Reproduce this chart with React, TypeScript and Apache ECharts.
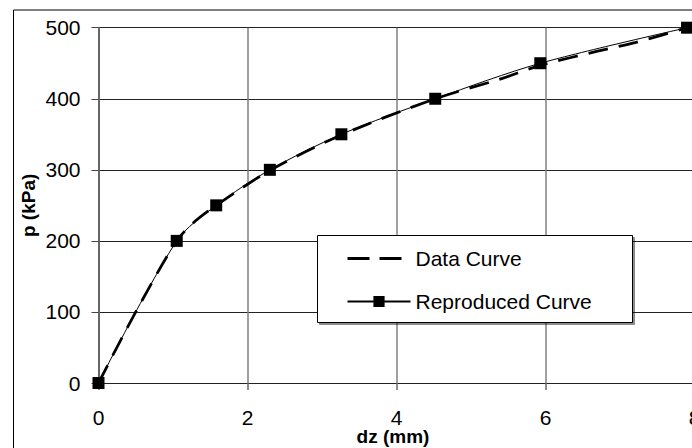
import React, { useEffect, useRef } from "react";
import * as echarts from "echarts";

const xTicks = [0, 2, 4, 6, 8];
const yTicks = [0, 100, 200, 300, 400, 500];

const dataCurveDz = [0, 0.5, 1.05, 1.3, 1.58, 2.3, 3.26, 4.52, 5.4, 5.93, 6.7, 7.2, 7.9];
const dataCurveP = [0, 100, 200, 228, 250, 299, 349, 400, 428, 447, 467, 479, 500];

const reproDz = [0, 1.05, 1.58, 2.3, 3.26, 4.52, 5.93, 7.9];
const reproP = [0, 200, 250, 300, 350, 400, 450, 500];

const FONT = "'Liberation Sans', Arial, sans-serif";

export default function App() {
  const ref = useRef<HTMLDivElement>(null);
  useEffect(() => {
    document.body.style.margin = "0";
    document.body.style.background = "#fff";
    const chart = echarts.init(ref.current!, null, { renderer: "svg" });
    chart.setOption({
      animation: false,
      backgroundColor: "#fff",
      textStyle: { fontFamily: FONT },
      grid: { left: 98.5, right: 25.5, top: 27.7, bottom: 65, containLabel: false, outerBoundsMode: "none" },
      xAxis: {
        type: "value",
        min: xTicks[0],
        max: xTicks[xTicks.length - 1],
        interval: 2,
        name: "dz (mm)",
        nameLocation: "middle",
        nameGap: 45,
        nameMoveOverlap: false,
        nameTextStyle: { fontSize: 19, lineHeight: 16, fontWeight: "bold", color: "#000", fontFamily: FONT, padding: [0, 7, 0, 0] },
        axisLine: { show: true, onZero: false, lineStyle: { color: "#222", width: 1 } },
        axisTick: { show: true, length: 7, lineStyle: { color: "#666", width: 1.5 } },
        axisLabel: { fontSize: 21, lineHeight: 16, color: "#000", margin: 26.5, fontFamily: FONT },
        splitLine: { show: true, lineStyle: { color: "#808080", width: 1.5 } },
      },
      yAxis: {
        type: "value",
        min: yTicks[0],
        max: yTicks[yTicks.length - 1],
        interval: 100,
        name: "p (kPa)",
        nameLocation: "middle",
        nameGap: 61,
        nameMoveOverlap: false,
        nameTextStyle: { fontSize: 19, fontWeight: "bold", color: "#000", fontFamily: FONT },
        axisLine: { show: true, onZero: false, lineStyle: { color: "#666", width: 2 } },
        axisTick: { show: true, length: 7, lineStyle: { color: "#444", width: 1 } },
        axisLabel: { fontSize: 21, color: "#000", margin: 18, fontFamily: FONT },
        splitLine: { show: true, lineStyle: { color: "#222", width: 1 } },
      },
      graphic: [
        {
          type: "rect",
          z: 0,
          silent: true,
          shape: { x: 13.5, y: 10, width: 900, height: 700 },
          style: { fill: "none", stroke: "#000", lineWidth: 1 },
        },
        {
          type: "rect",
          z: 50,
          silent: true,
          shape: { x: 317.5, y: 235.5, width: 315, height: 87 },
          style: {
            fill: "#fff",
            stroke: "#000",
            lineWidth: 1,
            shadowColor: "rgba(0,0,0,0.45)",
            shadowOffsetX: 2,
            shadowOffsetY: 2,
            shadowBlur: 0,
          },
        },
      ],
      legend: {
        z: 60,
        orient: "vertical",
        left: 346,
        top: 248,
        padding: 0,
        itemWidth: 63,
        itemHeight: 14,
        itemGap: 22,
        textStyle: { fontSize: 21, color: "#000", fontFamily: FONT, lineHeight: 20 },
        data: [
          {
            name: "Data Curve",
            lineStyle: { type: [22, 10], width: 3, color: "#000" },
            itemStyle: { color: "rgba(0,0,0,0)", borderColor: "rgba(0,0,0,0)", borderWidth: 0 },
          },
          { name: "Reproduced Curve", itemStyle: { color: "#000" } },
        ],
      },
      series: [
        {
          name: "Data Curve",
          type: "line",
          z: 2,
          data: dataCurveDz.map((d, i) => [d, dataCurveP[i]]),
          smooth: 0.3,
          showSymbol: false,
          symbol: "none",
          lineStyle: { color: "#000", width: 2.75, type: [20, 11] },
          itemStyle: { color: "#000" },
        },
        {
          name: "Reproduced Curve",
          type: "line",
          z: 3,
          data: reproDz.map((d, i) => [d, reproP[i]]),
          smooth: 0.3,
          symbol: "rect",
          symbolSize: 12,
          lineStyle: { color: "#000", width: 1 },
          itemStyle: { color: "#000" },
        },
      ],
    });
    return () => chart.dispose();
  }, []);
  return (
    <div style={{ width: 692, height: 448, overflow: "hidden", position: "relative" }}>
      <div ref={ref} style={{ width: 720, height: 448 }} />
    </div>
  );
}
